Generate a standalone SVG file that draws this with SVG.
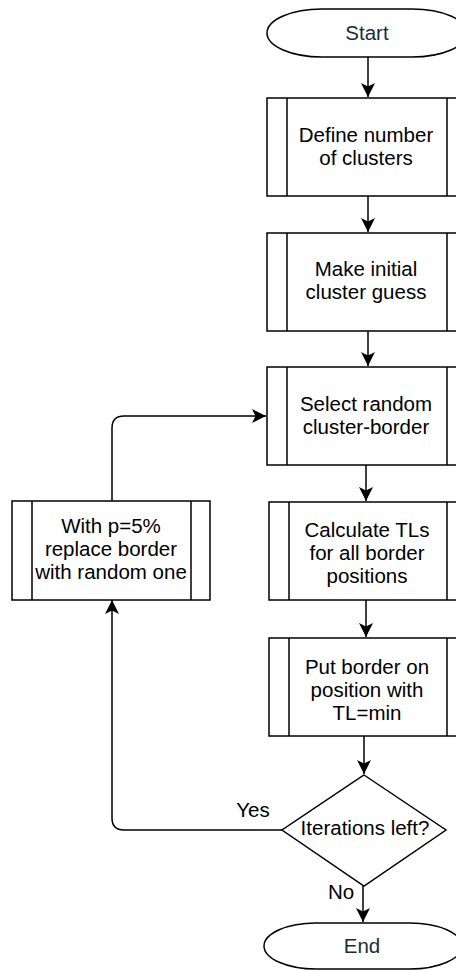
<svg xmlns="http://www.w3.org/2000/svg" width="456" height="970" viewBox="0 0 456 970">
  <style>
    .shape { fill: #ffffff; stroke: #000000; stroke-width: 1.5; }
    .inner { fill: none; stroke: #000000; stroke-width: 1.5; }
    .edge { fill: none; stroke: #000000; stroke-width: 1.5; }
    text { font-family: "Liberation Sans", Arial, Helvetica, sans-serif; font-size: 20.5px; fill: #000000; text-anchor: middle; }
    .term { fill: #1b2a3a; }
  </style>
  <defs>
    <marker id="arrow" markerUnits="userSpaceOnUse" markerWidth="15" markerHeight="15" refX="14" refY="7" orient="auto" viewBox="0 0 15 14">
      <path d="M0,0 L14,7 L0,14 L3.5,7 Z" fill="#000000"/>
    </marker>
  </defs>
  <rect width="456" height="970" fill="#ffffff"/>

  <g id="edges">
    <path class="edge" d="M368,57 V97" marker-end="url(#arrow)"/>
    <path class="edge" d="M368,196 V232" marker-end="url(#arrow)"/>
    <path class="edge" d="M368,331 V366" marker-end="url(#arrow)"/>
    <path class="edge" d="M366,465 V501" marker-end="url(#arrow)"/>
    <path class="edge" d="M366,600 V637" marker-end="url(#arrow)"/>
    <path class="edge" d="M364,736 V774" marker-end="url(#arrow)"/>
    <path class="edge" d="M363,886 V922" marker-end="url(#arrow)"/>
    <path class="edge" d="M282,830 H124 Q112,830 112,818 V600" marker-end="url(#arrow)"/>
    <path class="edge" d="M112,501 V428 Q112,416 124,416 H266" marker-end="url(#arrow)"/>
    <text x="253" y="817">Yes</text>
    <text x="341" y="899">No</text>
  </g>

  <g id="start">
    <rect class="shape" x="267" y="9" width="200" height="48" rx="55" ry="24"/>
    <text class="term" x="367" y="40">Start</text>
  </g>

  <g id="define">
    <rect class="shape" x="267" y="98" width="200" height="98"/>
    <path class="inner" d="M287,98 V196 M447,98 V196"/>
    <text x="366" y="142">Define number</text>
    <text x="366" y="165">of clusters</text>
  </g>

  <g id="initial">
    <rect class="shape" x="267" y="233" width="200" height="98"/>
    <path class="inner" d="M287,233 V331 M447,233 V331"/>
    <text x="366" y="276">Make initial</text>
    <text x="366" y="299">cluster guess</text>
  </g>

  <g id="select">
    <rect class="shape" x="267" y="367" width="200" height="98"/>
    <path class="inner" d="M287,367 V465 M447,367 V465"/>
    <text x="366" y="411">Select random</text>
    <text x="366" y="434">cluster-border</text>
  </g>

  <g id="calculate">
    <rect class="shape" x="269" y="502" width="198" height="98"/>
    <path class="inner" d="M289,502 V600 M447,502 V600"/>
    <text x="367" y="537">Calculate TLs</text>
    <text x="367" y="560">for all border</text>
    <text x="367" y="583">positions</text>
  </g>

  <g id="put">
    <rect class="shape" x="269" y="638" width="198" height="98"/>
    <path class="inner" d="M289,638 V736 M447,638 V736"/>
    <text x="367" y="674">Put border on</text>
    <text x="367" y="697">position with</text>
    <text x="367" y="720">TL=min</text>
  </g>

  <g id="replace">
    <rect class="shape" x="12" y="501" width="198" height="99"/>
    <path class="inner" d="M32,501 V600 M191,501 V600"/>
    <text x="111" y="533">With p=5%</text>
    <text x="111" y="556">replace border</text>
    <text x="111" y="579">with random one</text>
  </g>

  <g id="decision">
    <polygon class="shape" points="364,775 446,830 364,886 282,830"/>
    <text x="365" y="835">Iterations left?</text>
  </g>

  <g id="end">
    <rect class="shape" x="264" y="923" width="198" height="46" rx="52" ry="23"/>
    <text class="term" x="362" y="953">End</text>
  </g>
</svg>
